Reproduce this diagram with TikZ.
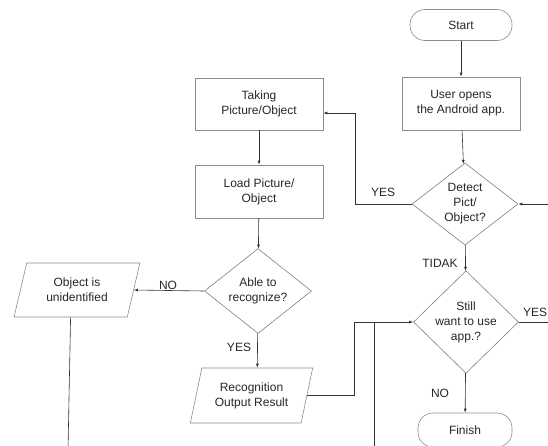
\documentclass[tikz,border=0pt]{standalone}
\usepackage{fontspec}
\setmainfont{Liberation Sans}
\usetikzlibrary{shapes.geometric,arrows.meta}
\tikzset{
  every node/.style={font=\fontsize{12}{15}\selectfont, text=black!85, align=center},
  boxshape/.style={rectangle, draw=black!45, line width=0.6pt, inner sep=0pt},
  termshape/.style={rectangle, rounded corners=15pt, draw=black!45, line width=0.6pt, inner sep=0pt},
  decshape/.style={diamond, draw=black!50, line width=0.6pt, inner sep=0pt},
  ioshape/.style={trapezium, trapezium left angle=72, trapezium right angle=108,
     trapezium stretches=true, draw=black!45, line width=0.6pt, inner sep=0pt},
  conn/.style={draw=black!80, line width=0.6pt},
  arr/.style={conn, -{Latex[length=4pt,width=3pt]}},
  lbl/.style={inner sep=0pt}
}
\begin{document}
\begin{tikzpicture}[x=1pt,y=-1pt]
\useasboundingbox (0,0) rectangle (548,445);
\clip (0,0) rectangle (548,445);
% nodes
\node[termshape, minimum width=102pt, minimum height=31pt] (start) at (461,25) {Start};
\node[boxshape, minimum width=118pt, minimum height=53pt] (user) at (461,103.5) {User opens\\the Android app.};
\node[decshape, minimum width=106pt, minimum height=82pt] (detect) at (465,204) {Detect\\Pict/\\Object?};
\node[decshape, minimum width=105pt, minimum height=83pt] (still) at (466,322) {Still\\want to use\\app.?};
\node[termshape, minimum width=94pt, minimum height=34pt] (finish) at (465,430) {Finish};
\node[boxshape, minimum width=128pt, minimum height=52pt] (taking) at (259,104) {Taking\\Picture/Object};
\node[boxshape, minimum width=128pt, minimum height=53pt] (load) at (259,191.5) {Load Picture/\\Object};
\node[decshape, minimum width=107pt, minimum height=82pt] (able) at (258,291) {Able to\\recognize?};
\node[ioshape, minimum width=126pt, minimum height=54pt] (unid) at (77,290) {Object is\\unidentified};
\node[ioshape, minimum width=123pt, minimum height=55pt] (recog) at (251.5,395.5) {Recognition\\Output Result};
% free ends
\coordinate (yesbend) at (355,204);
\coordinate (rightin) at (550,204);
\coordinate (rightout) at (550,322);
\coordinate (recbend) at (354,322);
\coordinate (loopbot) at (374,450);
\coordinate (unidbot) at (68,450);
% connectors
\draw[arr] (start) -- (user);
\draw[arr] (user) -- (detect);
\draw[arr] (detect.west) -- (yesbend) |- ([yshift=-9pt]taking.east);
\draw[arr] (rightin) -- (detect.east);
\draw[arr] (detect) -- (still);
\draw[conn] (still.east) -- (rightout);
\draw[arr] (still) -- (finish);
\draw[arr] (taking) -- (load);
\draw[arr] (load) -- (able);
\draw[arr] (able.west) -- (unid.east);
\draw[conn] (unid.bottom side) -- (unidbot);
\draw[arr] (able) -- (recog.top side);
\draw[arr] (recog.east) -| (recbend) -- (still.west);
\draw[conn] (loopbot) -- (loopbot |- still.west);
% labels
\node[lbl] (lyes1) at (383,192) {YES};
\node[lbl] (ltidak) at (440,263) {TIDAK};
\node[lbl] (lyes2) at (535,312) {YES};
\node[lbl] (lno1) at (440,393) {NO};
\node[lbl] (lno2) at (168,285) {NO};
\node[lbl] (lyes3) at (239,347) {YES};
\end{tikzpicture}
\end{document}
